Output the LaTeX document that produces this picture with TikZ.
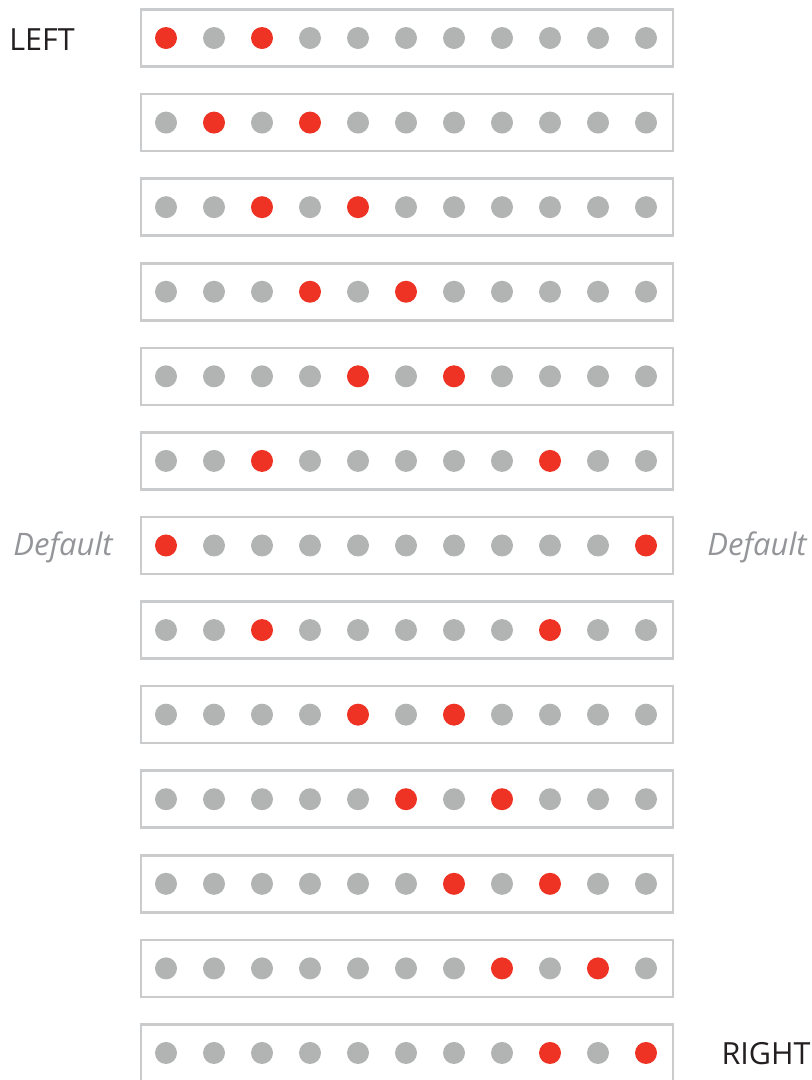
\documentclass[tikz,border=0pt]{standalone}
\usepackage{fontspec}
\setmainfont{Open Sans}
\definecolor{dotred}{RGB}{238,50,36}
\definecolor{dotgray}{RGB}{178,180,180}
\definecolor{boxgray}{RGB}{202,203,204}
\definecolor{labelgray}{RGB}{147,149,152}
\definecolor{labelblack}{RGB}{35,31,32}
\tikzset{
    rowbox/.style={draw=boxgray, line width=2.6pt, minimum width=532pt, minimum height=57pt, inner sep=0pt, outer sep=0pt},
    dot/.style={circle, minimum size=22pt, inner sep=0pt, outer sep=0pt},
    sidelabel/.style={font=\fontsize{30.5}{30.5}\selectfont, text=labelblack, inner sep=0pt},
    deflabel/.style={font=\fontsize{31}{31}\selectfont\itshape, text=labelgray, inner sep=0pt}
}
\begin{document}
\begin{tikzpicture}[x=1pt,y=-1pt]
        \useasboundingbox (0,0) rectangle (812,1080);

        % rows of eleven dots, two of them red
        \foreach \r/\a/\b in {1/1/3, 2/2/4, 3/3/5, 4/4/6, 5/5/7, 6/3/9, 7/1/11,
                              8/3/9, 9/5/7, 10/6/8, 11/7/9, 12/8/10, 13/9/11} {
            \pgfmathsetmacro{\yc}{38+84.58*(\r-1)}
            \node[rowbox] (row\r) at (407,\yc) {};
            \foreach \k in {1,...,11} {
                \pgfmathtruncatemacro{\hit}{(\k==\a || \k==\b) ? 1 : 0}
                \ifnum\hit=1
                    \node[dot, fill=dotred] (d\r-\k) at ({166+48*(\k-1)},\yc) {};
                \else
                    \node[dot, fill=dotgray] (d\r-\k) at ({166+48*(\k-1)},\yc) {};
                \fi
            }
        }

        % labels
        \node[sidelabel] (left) at (42,40) {LEFT};
        \node[sidelabel] (right) at (766,1054) {RIGHT};
        \node[deflabel] (defl) at (63,547) {Default};
        \node[deflabel] (defr) at (757,547) {Default};
\end{tikzpicture}
\end{document}
